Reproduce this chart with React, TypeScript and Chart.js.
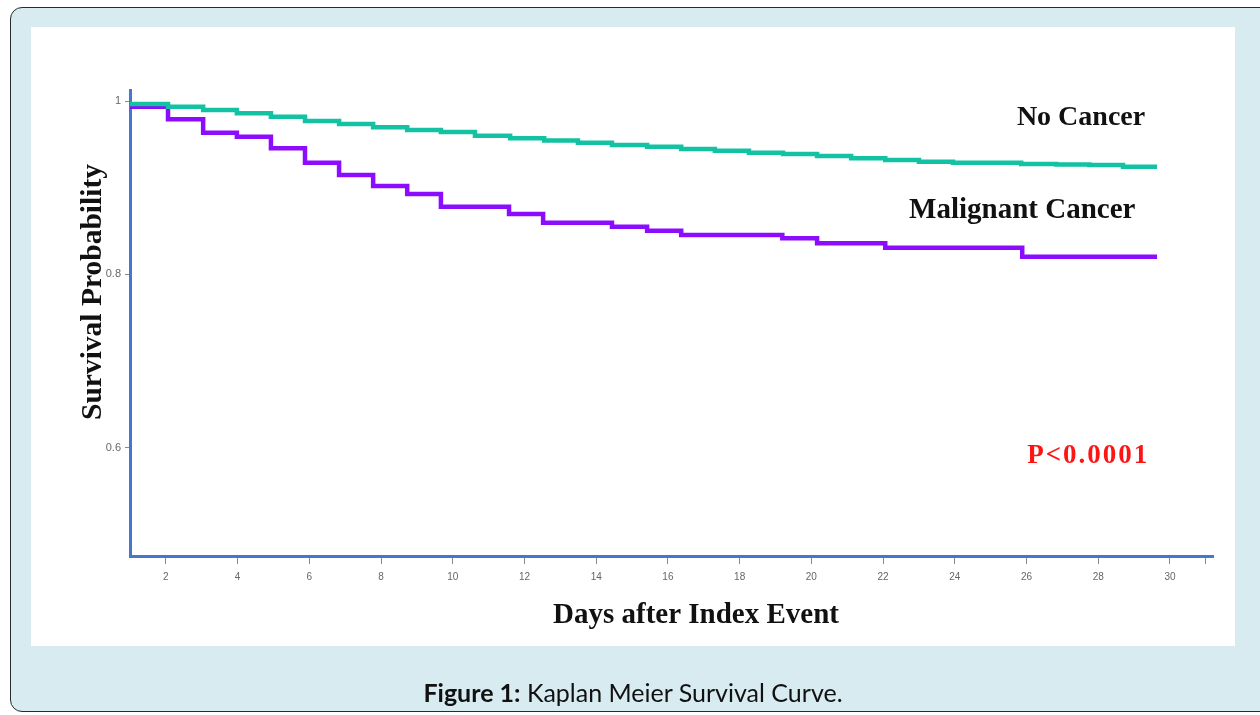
import React, { useEffect, useRef } from "react";
import { Chart, registerables } from "chart.js";

Chart.register(...registerables);

// ---- data ----
const noCancerDays = [1, 2.06, 3.04, 3.98, 4.93, 5.88, 6.83, 7.78, 8.73, 9.67, 10.62, 11.6, 12.55, 13.49, 14.44, 15.42, 16.37, 17.31, 18.26, 19.21, 20.16, 21.11, 22.06, 23.0, 23.95, 25.85, 26.83, 27.75, 28.69, 29.64];
const noCancerSurvival = [0.9965, 0.9934, 0.9896, 0.9858, 0.9819, 0.9769, 0.9735, 0.9696, 0.9665, 0.9642, 0.96, 0.957, 0.9543, 0.9519, 0.9492, 0.9473, 0.9446, 0.9426, 0.9403, 0.9388, 0.9365, 0.9339, 0.9319, 0.93, 0.9288, 0.9273, 0.9267, 0.9261, 0.9242, 0.9242];

const malignantDays = [1, 2.06, 3.04, 3.98, 4.93, 5.88, 6.83, 7.78, 8.73, 9.67, 11.57, 12.52, 14.44, 15.42, 16.37, 19.19, 20.16, 22.06, 25.88, 29.64];
const malignantSurvival = [0.9934, 0.9789, 0.9634, 0.9588, 0.9454, 0.9288, 0.9146, 0.9019, 0.8927, 0.878, 0.8696, 0.8596, 0.8549, 0.8503, 0.8454, 0.8415, 0.8358, 0.8307, 0.8203, 0.8203];

const xTickValues = [2, 4, 6, 8, 10, 12, 14, 16, 18, 20, 22, 24, 26, 28, 30];
const xEndTick = 31;
const yTickValues = [0.6, 0.8, 1];
const yTickLabels = ["0.6", "0.8", "1"];

const seriesNames = ["No Cancer", "Malignant Cancer"];
const pValueText = "P<0.0001";
const xAxisTitle = "Days after Index Event";
const yAxisTitle = "Survival Probability";

const toPoints = (days: number[], vals: number[]) => days.map((d, i) => ({ x: d, y: vals[i] }));

const textPlugin = {
  id: "kmText",
  afterDraw(chart: any) {
    const { ctx, scales } = chart;
    const xs = scales.x;
    const ys = scales.y;
    ctx.save();
    ctx.fillStyle = "#111";
    ctx.textAlign = "center";
    ctx.textBaseline = "middle";
    ctx.font = "bold 28px 'Liberation Serif'";
    ctx.fillText(seriesNames[0], xs.getPixelForValue(27.52), ys.getPixelForValue(0.9804));
    ctx.font = "bold 29px 'Liberation Serif'";
    ctx.fillText(seriesNames[1], xs.getPixelForValue(25.88), ys.getPixelForValue(0.8742));
    ctx.font = "bold 27px 'Liberation Serif'";
    ctx.fillStyle = "#ff1414";
    (ctx as any).letterSpacing = "2px";
    ctx.fillText(pValueText, xs.getPixelForValue(27.72), ys.getPixelForValue(0.5903));
    (ctx as any).letterSpacing = "0px";
    ctx.fillStyle = "#111";
    ctx.font = "bold 29px 'Liberation Serif'";
    ctx.fillText(xAxisTitle, 696, 616);
    ctx.translate(93, 292);
    ctx.rotate(-Math.PI / 2);
    ctx.font = "bold 29.5px 'Liberation Serif'";
    ctx.fillText(yAxisTitle, 0, 0);
    ctx.restore();
  },
};

export default function App() {
  const canvasRef = useRef<HTMLCanvasElement | null>(null);

  useEffect(() => {
    const canvas = canvasRef.current;
    if (!canvas) return;
    const chart = new Chart(canvas, {
      type: "line",
      data: {
        datasets: [
          {
            label: seriesNames[0],
            data: toPoints(noCancerDays, noCancerSurvival),
            borderColor: "#12c2a2",
            borderWidth: 4.5,
            stepped: true,
            pointRadius: 0,
            fill: false,
            borderCapStyle: "butt",
          },
          {
            label: seriesNames[1],
            data: toPoints(malignantDays, malignantSurvival),
            borderColor: "#8c0cff",
            borderWidth: 4.5,
            stepped: true,
            pointRadius: 0,
            fill: false,
            borderCapStyle: "butt",
          },
        ],
      },
      options: {
        animation: false,
        responsive: false,
        maintainAspectRatio: false,
        layout: { padding: { left: 100, top: 90, right: 47, bottom: 0 } },
        plugins: { legend: { display: false }, tooltip: { enabled: false }, title: { display: false } },
        scales: {
          x: {
            type: "linear",
            min: 1,
            max: 31.2,
            afterFit(scale: any) {
              scale.height = 159;
            },
            afterBuildTicks(scale: any) {
              scale.ticks = [...xTickValues, xEndTick].map((v) => ({ value: v }));
            },
            ticks: {
              autoSkip: false,
              maxRotation: 0,
              padding: 7,
              color: "#666",
              font: { family: "'Liberation Sans'", size: 10 },
              callback: (v: any) => (xTickValues.includes(v) ? String(v) : ""),
            },
            grid: {
              display: true,
              drawOnChartArea: false,
              drawTicks: true,
              tickLength: 8,
              tickColor: "#8a8a8a",
              lineWidth: 1,
            },
            border: { display: true, color: "#4677cf", width: 3 },
          },
          y: {
            type: "linear",
            min: 0.475,
            max: 1.0127,
            afterFit(scale: any) {
              scale.width = 30;
            },
            afterBuildTicks(scale: any) {
              scale.ticks = yTickValues.map((v) => ({ value: v }));
            },
            ticks: {
              autoSkip: false,
              padding: 4,
              color: "#666",
              font: { family: "'Liberation Sans'", size: 11 },
              callback: (v: any) => {
                const i = yTickValues.indexOf(v);
                return i >= 0 ? yTickLabels[i] : "";
              },
            },
            grid: {
              display: true,
              drawOnChartArea: false,
              drawTicks: true,
              tickLength: 5,
              tickColor: "#8a8a8a",
              lineWidth: 1,
            },
            border: { display: true, color: "#4677cf", width: 3 },
          },
        },
      },
      plugins: [textPlugin],
    } as any);
    return () => chart.destroy();
  }, []);

  return (
    <div style={{ position: "absolute", left: 0, top: 0, width: 1260, height: 715, overflow: "hidden", background: "#fff" }}>
      <div
        style={{
          position: "absolute",
          left: 10,
          top: 7,
          width: 1280,
          height: 705,
          background: "#d7ebf1",
          border: "1.5px solid #2a2a2a",
          borderRadius: 12,
          boxSizing: "border-box",
        }}
      />
      <div style={{ position: "absolute", left: 31, top: 27, width: 1204, height: 619, background: "#fff" }} />
      <canvas ref={canvasRef} width={1260} height={715} style={{ position: "absolute", left: 0, top: 0, width: 1260, height: 715 }} />
      <div
        style={{
          position: "absolute",
          left: 0,
          width: 1266,
          top: 676,
          textAlign: "center",
          fontFamily: "Lato, 'Open Sans', sans-serif",
          fontSize: 25,
          color: "#111",
          lineHeight: "32px",
        }}
      >
        <b>Figure 1:</b> Kaplan Meier Survival Curve.
      </div>
    </div>
  );
}
